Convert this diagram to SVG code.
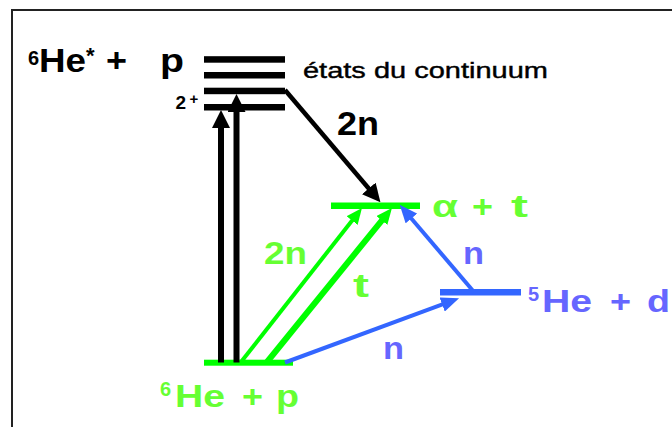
<svg xmlns="http://www.w3.org/2000/svg" width="672" height="427" viewBox="0 0 672 427">
<defs>
<style>
text{font-family:"Liberation Sans",Arial,sans-serif;font-weight:bold}
.k{fill:#000}.g{fill:#66ff33}.b{fill:#6666ff}
.lk{stroke:#000;fill:none}.lg{stroke:#00ff00;fill:none}.lb{stroke:#3366ff;fill:none}
</style>
<marker id="hk" viewBox="0 0 18 18" refX="1" refY="9" markerWidth="18" markerHeight="18" markerUnits="userSpaceOnUse" orient="auto"><path d="M0,0L18,9L0,18z" fill="#000"/></marker>
<marker id="hg" viewBox="0 0 16 14" refX="1" refY="7" markerWidth="16" markerHeight="14" markerUnits="userSpaceOnUse" orient="auto"><path d="M0,0L16,7L0,14z" fill="#00ff00"/></marker>
<marker id="hb" viewBox="0 0 18 15" refX="1" refY="7.5" markerWidth="18" markerHeight="15" markerUnits="userSpaceOnUse" orient="auto"><path d="M0,0L18,7.5L0,15z" fill="#3366ff"/></marker>
</defs>
<rect x="0" y="0" width="672" height="427" fill="#fff"/>
<path d="M12,427V10H672" fill="none" stroke="#222" stroke-width="2"/>

<g id="continuum">
<rect x="204" y="56.2" width="81" height="6.5" fill="#000"/>
<rect x="204" y="72" width="81" height="6.5" fill="#000"/>
<rect x="204" y="87.7" width="81" height="6.5" fill="#000"/>
<rect x="204" y="104" width="81" height="6.5" fill="#000"/>
<text class="k" x="28" y="65" font-size="20">6</text>
<text class="k" x="39" y="71.5" font-size="33" textLength="47" lengthAdjust="spacingAndGlyphs">He</text>
<text class="k" x="86" y="63" font-size="22">*</text>
<text class="k" x="106" y="71.5" font-size="33" textLength="21" lengthAdjust="spacingAndGlyphs">+</text>
<text class="k" x="160" y="71.5" font-size="33" textLength="24" lengthAdjust="spacingAndGlyphs">p</text>
<text class="k" x="175.5" y="108.5" font-size="19">2</text>
<text class="k" x="189.5" y="103.5" font-size="15">+</text>
<text class="k" x="303" y="77.5" font-size="22" textLength="245" lengthAdjust="spacingAndGlyphs" style="font-weight:normal" stroke="#000" stroke-width="0.4">états du continuum</text>
</g>

<g id="alpha-t">
<rect x="331" y="202.5" width="89" height="6.5" fill="#00ff00"/>
<text class="g" x="432" y="216.5" font-size="32" textLength="26" lengthAdjust="spacingAndGlyphs">α</text>
<text class="g" x="472" y="216.5" font-size="32" textLength="21" lengthAdjust="spacingAndGlyphs">+</text>
<text class="g" x="511" y="216.5" font-size="32" textLength="17" lengthAdjust="spacingAndGlyphs">t</text>
</g>

<g id="he5-d">
<rect x="440" y="289" width="81" height="6.5" fill="#3366ff"/>
<text class="b" x="528" y="301" font-size="20">5</text>
<text class="b" x="542" y="311.7" font-size="32" textLength="50" lengthAdjust="spacingAndGlyphs">He</text>
<text class="b" x="610" y="311.7" font-size="32" textLength="21" lengthAdjust="spacingAndGlyphs">+</text>
<text class="b" x="647" y="311.7" font-size="32" textLength="23" lengthAdjust="spacingAndGlyphs">d</text>
</g>

<g id="he6-p">
<rect x="204" y="359.7" width="89" height="6" fill="#00ff00"/>
<text class="g" x="160" y="396" font-size="20">6</text>
<text class="g" x="175" y="407" font-size="32" textLength="50" lengthAdjust="spacingAndGlyphs">He</text>
<text class="g" x="242" y="407" font-size="32" textLength="21" lengthAdjust="spacingAndGlyphs">+</text>
<text class="g" x="276" y="407" font-size="32" textLength="23" lengthAdjust="spacingAndGlyphs">p</text>
</g>

<g id="connectors">
<path class="lk" stroke-width="6" d="M221,362.5V127" marker-end="url(#hk)"/>
<path class="lk" stroke-width="6" d="M236.5,362.5V111" marker-end="url(#hk)"/>
<path class="lk" stroke-width="4.5" d="M285,90L369.4,189.2" marker-end="url(#hk)"/>
<path class="lg" stroke-width="4" d="M241,362L352.7,219.8" marker-end="url(#hg)"/>
<path class="lg" stroke-width="6" d="M267,362L382.5,219.7" marker-end="url(#hg)"/>
<path class="lb" stroke-width="4" d="M285,362.5L443.1,304.2" marker-end="url(#hb)"/>
<path class="lb" stroke-width="4" d="M474,292L410.7,217.7" marker-end="url(#hb)"/>
<text class="k" x="337" y="135" font-size="34" textLength="42" lengthAdjust="spacingAndGlyphs">2n</text>
<text class="g" x="264" y="263.5" font-size="32" textLength="43" lengthAdjust="spacingAndGlyphs">2n</text>
<text class="g" x="353" y="296.5" font-size="34" textLength="16" lengthAdjust="spacingAndGlyphs">t</text>
<text class="b" x="463" y="264" font-size="32" textLength="21" lengthAdjust="spacingAndGlyphs">n</text>
<text class="b" x="383" y="359" font-size="32" textLength="21" lengthAdjust="spacingAndGlyphs">n</text>
</g>
</svg>
